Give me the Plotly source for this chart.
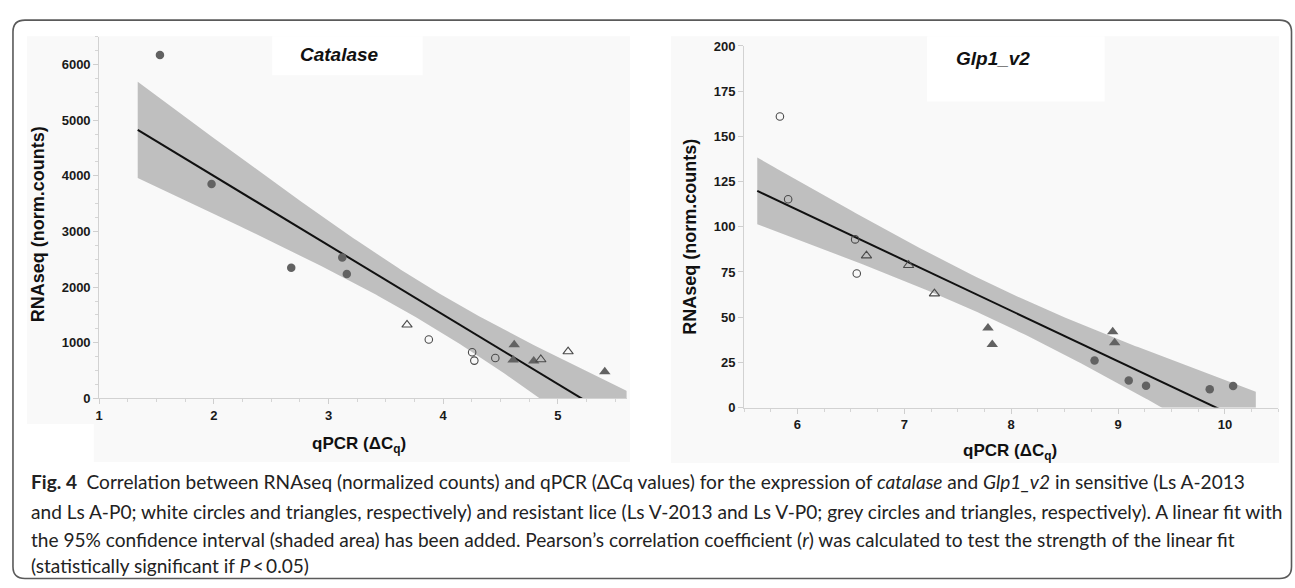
import numpy as np
import plotly.graph_objects as go

W, H = 1295, 588

# ---------------- data ----------------
# Catalase panel
cat_v2013_x = [1.53, 1.98, 2.675, 3.12, 3.16]        # Ls V-2013, grey circles
cat_v2013_y = [6170, 3853, 2347, 2534, 2237]
cat_vp0_x = [4.62, 4.61, 4.79, 5.41]                  # Ls V-P0, grey triangles
cat_vp0_y = [963, 690, 675, 482]
cat_a2013_x = [3.875, 4.253, 4.272, 4.455]           # Ls A-2013, white circles
cat_a2013_y = [1058, 830, 680, 728]
cat_ap0_x = [3.685, 4.852, 5.09]                      # Ls A-P0, white triangles
cat_ap0_y = [1323, 700, 843]

# Glp1_v2 panel
glp_a2013_x = [5.836, 5.913, 6.54, 6.555]
glp_a2013_y = [161.0, 115.2, 93.0, 74.1]
glp_ap0_x = [6.646, 7.04, 7.282]
glp_ap0_y = [84.0, 78.7, 63.0]
glp_vp0_x = [7.783, 7.823, 8.95, 8.968]
glp_vp0_y = [44.0, 34.8, 41.9, 35.8]
glp_v2013_x = [8.78, 9.10, 9.262, 9.858, 10.077]
glp_v2013_y = [26.0, 14.9, 12.1, 10.1, 11.9]

cat_xticks = [1, 2, 3, 4, 5]
cat_yticks = [0, 1000, 2000, 3000, 4000, 5000, 6000]
glp_xticks = [6, 7, 8, 9, 10]
glp_yticks = [0, 25, 50, 75, 100, 125, 150, 175, 200]

T_975 = {14: 2.1448}  # Student t quantile, 95% two-sided

caption_lines = [
    "<b>Fig. 4</b>\u2002Correlation between RNAseq (normalized counts) and qPCR (ΔCq values) for the expression of <i>catalase</i> and <i>Glp1_v2</i> in sensitive (Ls A-2013",
    "and Ls A-P0; white circles and triangles, respectively) and resistant lice (Ls V-2013 and Ls V-P0; grey circles and triangles, respectively). A linear fit with",
    "the 95% confidence interval (shaded area) has been added. Pearson\u2019s correlation coefficient (<i>r</i>) was calculated to test the strength of the linear fit",
    "(statistically significant if <i>P</i>\u2009<\u20090.05)",
]


def X(px):
    return px / W


def Y(py):
    return 1 - py / H


def fit_band(xs, ys, n_pts=200):
    x = np.asarray(xs, float)
    y = np.asarray(ys, float)
    n = len(x)
    xm, ym = x.mean(), y.mean()
    sxx = ((x - xm) ** 2).sum()
    b = ((x - xm) * (y - ym)).sum() / sxx
    a = ym - b * xm
    s = np.sqrt(((y - (a + b * x)) ** 2).sum() / (n - 2))
    pad = 0.05 * (x.max() - x.min())
    g = np.linspace(x.min() - pad, x.max() + pad, n_pts)
    yh = a + b * g
    hw = T_975[n - 2] * s * np.sqrt(1.0 / n + (g - xm) ** 2 / sxx)
    return g, yh, yh - hw, yh + hw


GREY = "#626262"
OPEN = "#4a4a4a"
BAND = "#bfbfbf"

fig = go.Figure()


def add_panel(xa, ya, groups):
    allx = sum([g[0] for g in groups], [])
    ally = sum([g[1] for g in groups], [])
    g, yh, lo, hi = fit_band(allx, ally)
    fig.add_trace(go.Scatter(x=np.concatenate([g, g[::-1]]), y=np.concatenate([lo, hi[::-1]]),
                             fill="toself", fillcolor=BAND, line=dict(width=0),
                             mode="lines", hoverinfo="skip", showlegend=False, xaxis=xa, yaxis=ya))
    fig.add_trace(go.Scatter(x=g, y=yh, mode="lines", line=dict(color="#111111", width=2),
                             showlegend=False, xaxis=xa, yaxis=ya))
    for xs, ys, sym, size in groups:
        if sym.endswith("open"):
            mk = dict(symbol=sym, size=size, color=OPEN, line=dict(width=1.1, color=OPEN))
        else:
            mk = dict(symbol=sym, size=size, color=GREY, line=dict(width=0))
        fig.add_trace(go.Scatter(x=xs, y=ys, mode="markers", marker=mk, showlegend=False,
                                 xaxis=xa, yaxis=ya, cliponaxis=False))


add_panel("x", "y", [
    (cat_v2013_x, cat_v2013_y, "circle", 8.5),
    (cat_vp0_x, cat_vp0_y, "triangle-up", 10),
    (cat_a2013_x, cat_a2013_y, "circle-open", 7.5),
    (cat_ap0_x, cat_ap0_y, "triangle-up-open", 9),
])
add_panel("x2", "y2", [
    (glp_v2013_x, glp_v2013_y, "circle", 8.5),
    (glp_vp0_x, glp_vp0_y, "triangle-up", 10),
    (glp_a2013_x, glp_a2013_y, "circle-open", 7.5),
    (glp_ap0_x, glp_ap0_y, "triangle-up-open", 9),
])

TICKFONT = dict(family="Liberation Sans, Arial, sans-serif", size=13, color="#1a1a1a", weight="bold")
AX = dict(showline=True, linecolor="#d2d2d2", linewidth=1, showgrid=False, zeroline=False,
          ticks="outside", ticklen=5, tickcolor="#cfcfcf", tickwidth=1, tickfont=TICKFONT,
          fixedrange=True)

fig.update_layout(
    width=W, height=H, margin=dict(l=0, r=0, t=0, b=0),
    paper_bgcolor="white", plot_bgcolor="rgba(0,0,0,0)",
    xaxis=dict(AX, domain=[X(95.5), X(624.5)], range=[1, 5.6], tickvals=cat_xticks,
               minor=dict(dtick=0.25, ticks="outside", ticklen=3, tickcolor="#d5d5d5"),
               anchor="y"),
    yaxis=dict(AX, domain=[Y(401.7), Y(30.5)], range=[0, 6500], tickvals=cat_yticks,
               minor=dict(dtick=250, ticks="outside", ticklen=3, tickcolor="#d5d5d5"),
               anchor="x"),
    xaxis2=dict(AX, domain=[X(742.3), X(1278.3)], range=[5.5, 10.5], tickvals=glp_xticks,
                minor=dict(dtick=0.25, ticks="outside", ticklen=3, tickcolor="#d5d5d5"),
                anchor="y2"),
    yaxis2=dict(AX, domain=[Y(411), Y(40)], range=[0, 200], tickvals=glp_yticks, anchor="x2"),
)

shapes = []
PANEL = "#f9f9f9"
for (x0, y0, x1, y1, col) in [
    (23, 30, 628, 467, PANEL),
    (669, 30, 1279, 468, PANEL),
    (269, 30, 420, 70, "white"),
    (926, 30, 1104, 97, "white"),
    (23, 428, 90, 467, "white"),
]:
    shapes.append(dict(type="rect", xref="paper", yref="paper", x0=X(x0), x1=X(x1),
                       y0=Y(y1), y1=Y(y0), fillcolor=col, line=dict(width=0), layer="below"))

# rounded outer frame
l, r_, t, b, rad = 9, 1291.5, 13.5, 586.5, 12
path = (f"M {X(l+rad)},{Y(t)} L {X(r_-rad)},{Y(t)} Q {X(r_)},{Y(t)} {X(r_)},{Y(t+rad)} "
        f"L {X(r_)},{Y(b-rad)} Q {X(r_)},{Y(b)} {X(r_-rad)},{Y(b)} "
        f"L {X(l+rad)},{Y(b)} Q {X(l)},{Y(b)} {X(l)},{Y(b-rad)} "
        f"L {X(l)},{Y(t+rad)} Q {X(l)},{Y(t)} {X(l+rad)},{Y(t)} Z")
shapes.append(dict(type="path", xref="paper", yref="paper", path=path,
                   line=dict(color="#5a5a5a", width=1.6), fillcolor="rgba(0,0,0,0)", layer="above"))
fig.update_layout(shapes=shapes)

AF = "Liberation Sans, Arial, sans-serif"
ann = []


def text(px, py, s, size, angle=0, italic=False, anchor="center", family=AF, weight="bold", color="#111111"):
    ann.append(dict(xref="paper", yref="paper", x=X(px), y=Y(py), text=s, showarrow=False,
                    textangle=angle, xanchor=anchor, yanchor="middle",
                    font=dict(family=family, size=size, color=color, weight=weight,
                              style="italic" if italic else "normal")))


text(337, 49, "Catalase", 19, italic=True)
text(992, 53, "Glp1_v2", 19, italic=True)
text(34, 223, "RNAseq (norm.counts)", 18, angle=-90)
text(688, 236, "RNAseq (norm.counts)", 18, angle=-90)
text(356, 449, "qPCR (ΔC<sub>q</sub>)", 17)
text(1009, 457, "qPCR (ΔC<sub>q</sub>)", 17)

for i, line in enumerate(caption_lines):
    text(25, [487, 517.5, 546.5, 573][i], line, 19.1, anchor="left", family="Lato, sans-serif",
         weight="normal", color="#222222")

fig.update_layout(annotations=ann)
fig.write_html("out.html")
